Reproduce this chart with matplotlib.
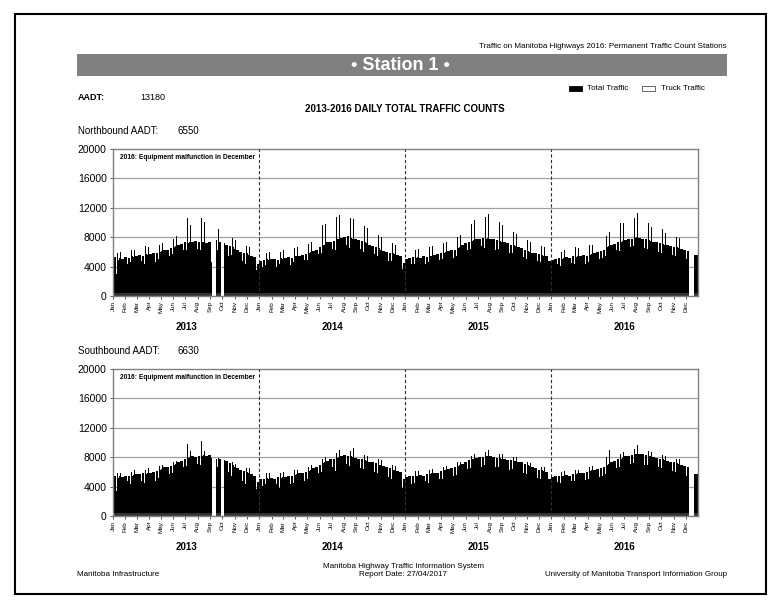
import numpy as np
import matplotlib
matplotlib.use("Agg")
import matplotlib.pyplot as plt
from matplotlib.patches import Rectangle

# ---------------------------------------------------------------------------
# weekly values: quiet day (low), usual level (base) and
# the busiest day of the week (peak)

years = [2013, 2014, 2015, 2016]
months = ["Jan", "Feb", "Mar", "Apr", "May", "Jun",
          "Jul", "Aug", "Sep", "Oct", "Nov", "Dec"]

nb_aadt = 6550
sb_aadt = 6630
total_aadt = 13180

nb_low_2013 = [2900, 3000, 4500, 4200, 4000, 4300, 4600, 4200, 4500, 4500, 4700, 4400, 4800,
               4900, 5000, 4600, 5000, 5200, 5300, 4800, 5500, 5700, 5800, 6000, 5600, 6200,
               6200, 5900, 6300, 6100, 6400, 6300, 6000, 6200, 6300, 4500, 6500, 6300, 6200,
               6000, 5800, 5500, 5600, 5200, 5000, 4600, 4800, 4300, 4500, 4200, 3500, 3500]
nb_base_2013 = [5300, 4900, 5200, 5100, 5300, 5200, 5400, 5300, 5500, 5600, 5500, 5700, 5600,
                5700, 5900, 5800, 6000, 6100, 6300, 6300, 6500, 6700, 6800, 7000, 7100, 7300,
                7200, 7400, 7300, 7500, 7400, 7400, 7300, 7200, 7400, 4600, 7600, 7400, 7300,
                7200, 7000, 6800, 6600, 6400, 6200, 6000, 5900, 5800, 5600, 5500, 5300, 4400]
nb_peak_2013 = [6100, 5900, 6000, 6200, 6100, 6400, 6300, 6200, 6600, 6700, 6500, 6800, 6600,
                6700, 6900, 6800, 7000, 7200, 7400, 7400, 8700, 7800, 8200, 9100, 9000, 9500,
                10600, 9600, 10200, 9800, 10300, 10600, 10100, 10400, 10500, 4700, 9400, 9100, 8500,
                8300, 8400, 8200, 7900, 7600, 7400, 7100, 6900, 6800, 6600, 6500, 6700, 6300]

nb_low_2014 = [3500, 4000, 4200, 3900, 4100, 4300, 3900, 4400, 4200, 4300, 4500, 4200, 4600,
               4700, 4500, 4800, 4900, 4900, 5200, 5000, 5400, 5700, 5900, 5600, 6200, 6300,
               6400, 6200, 6600, 6500, 6800, 6900, 6500, 6600, 6300, 6300, 6400, 6000, 6100,
               5900, 5600, 5700, 5400, 5200, 4900, 5100, 4800, 4800, 4700, 4400, 4300, 3700]
nb_base_2014 = [4800, 4900, 5000, 4900, 5000, 5100, 4900, 5200, 5100, 5200, 5300, 5200, 5400,
                5500, 5400, 5600, 5700, 5800, 6000, 6100, 6300, 6600, 6900, 7000, 7300, 7400,
                7500, 7700, 7800, 7900, 8000, 8100, 7900, 7800, 7700, 7600, 7500, 7300, 7200,
                7000, 6800, 6700, 6500, 6300, 6100, 6000, 5900, 5800, 5700, 5600, 5500, 4500]
nb_peak_2014 = [5800, 5500, 5900, 6000, 6100, 5900, 6200, 6000, 6300, 6200, 6400, 6300, 6500,
                6600, 6500, 6800, 7000, 7100, 7300, 8600, 8800, 9200, 9600, 9800, 9500, 10000,
                11000, 10800, 11000, 10600, 11900, 10800, 10600, 10500, 10200, 10000, 9800, 9500, 9300,
                9000, 8800, 8500, 8300, 8000, 7700, 7600, 7300, 7200, 7000, 6900, 6800, 6000]

nb_low_2015 = [3000, 4200, 4400, 4300, 4300, 4000, 4500, 4400, 4600, 4500, 4700, 4600, 4900,
               5000, 4900, 5100, 5300, 5200, 5500, 5600, 5800, 6100, 6200, 6400, 6100, 6600,
               6600, 6800, 6500, 6700, 6600, 6500, 6300, 6400, 6200, 6000, 6100, 5800, 5900,
               5700, 5500, 5500, 5300, 5100, 5000, 4800, 4900, 4700, 4600, 4500, 4200, 4000]
nb_base_2015 = [5000, 5200, 5300, 5200, 5300, 5200, 5400, 5300, 5500, 5500, 5600, 5700, 5800,
                5900, 6000, 6100, 6200, 6300, 6500, 6700, 6900, 7200, 7400, 7500, 7600, 7700,
                7800, 7900, 7800, 7900, 7800, 7700, 7600, 7500, 7400, 7300, 7200, 7000, 6900,
                6800, 6700, 6500, 6300, 6100, 6000, 5900, 5800, 5700, 5600, 5500, 5400, 4700]
nb_peak_2015 = [6000, 6200, 5900, 6300, 6400, 6200, 6500, 6400, 6700, 6800, 6700, 7000, 7100,
                7200, 7300, 7600, 7500, 7800, 8000, 8300, 8500, 9300, 10200, 9800, 10300, 9900,
                10600, 10200, 10800, 11200, 10500, 10300, 10000, 10100, 9600, 9400, 9200, 9000, 8700,
                8500, 8300, 8000, 7800, 7600, 7400, 7300, 7100, 6900, 6800, 6700, 6600, 6000]

nb_low_2016 = [3900, 4200, 4300, 4100, 4300, 4400, 4100, 4500, 4400, 4500, 4500, 4600, 4400,
               4600, 4700, 4800, 5000, 5100, 5200, 5500, 5700, 5800, 6000, 6200, 6100, 6400,
               6500, 6400, 6600, 6800, 6800, 6700, 6600, 6500, 6400, 6300, 6200, 6100, 6000,
               5900, 5800, 5700, 5700, 5600, 5400, 5400, 5300, 5200, 5000, 3600, 6000, 4800]
nb_base_2016 = [4900, 5100, 5200, 5100, 5200, 5300, 5200, 5400, 5300, 5400, 5500, 5600, 5500,
                5600, 5700, 5800, 6000, 6100, 6300, 6600, 6800, 7000, 7100, 7300, 7400, 7500,
                7600, 7700, 7800, 7900, 8000, 7900, 7800, 7700, 7600, 7500, 7400, 7300, 7200,
                7100, 7000, 6900, 6800, 6700, 6600, 6500, 6400, 6300, 6100, 3600, 5900, 5600]
nb_peak_2016 = [5900, 6100, 6200, 6000, 6300, 6400, 6200, 6500, 6600, 6500, 6800, 6700, 6900,
                7000, 6900, 7200, 7600, 7800, 8000, 8200, 8700, 9700, 9800, 9400, 10000, 9900,
                10500, 10200, 10800, 10600, 11300, 10700, 10500, 10600, 10000, 9400, 9700, 9000, 9200,
                9100, 8600, 8400, 8300, 8100, 8000, 7900, 7700, 7600, 7200, 3600, 6000, 7000]

sb_low_2013 = [3000, 3400, 4500, 4400, 4500, 4700, 4400, 4100, 4800, 4600, 4800, 4500, 4900,
               4800, 5000, 4800, 5200, 5400, 5500, 5200, 5700, 5900, 6100, 6200, 6400, 6600,
               6800, 6700, 7000, 6800, 7100, 7000, 7200, 7000, 7100, 7000, 6800, 6700, 6600,
               6500, 6400, 6000, 5500, 5400, 5200, 4900, 4800, 4400, 4500, 4200, 3800, 3700]
sb_base_2013 = [5500, 5200, 5400, 5300, 5400, 5500, 5400, 5600, 5700, 5700, 5800, 5700, 5900,
                5900, 6000, 6100, 6200, 6400, 6600, 6700, 6800, 6900, 7100, 7300, 7500, 7700,
                7900, 8000, 8100, 8000, 8200, 8200, 8300, 8200, 8300, 7900, 7800, 7700, 7700,
                7600, 7500, 7200, 6900, 6700, 6500, 6300, 6100, 6000, 5900, 5700, 5500, 4600]
sb_peak_2013 = [6000, 5800, 5900, 6000, 6000, 6100, 6000, 6200, 6300, 6300, 6400, 6300, 6500,
                6500, 6600, 6600, 6800, 6900, 7000, 7100, 7200, 7300, 7500, 7800, 8000, 8100,
                9800, 8800, 9500, 9000, 9300, 10200, 8800, 9200, 10100, 8000, 8000, 7900, 8100,
                8000, 7900, 7600, 7400, 7100, 7000, 6800, 6600, 6500, 6500, 6300, 6200, 5900]

sb_low_2014 = [3700, 4100, 4300, 3900, 4200, 4000, 4300, 3800, 4100, 3900, 4200, 4400, 4500,
               4500, 4800, 4700, 4800, 5100, 5200, 5400, 5600, 5800, 6000, 6200, 6300, 6500,
               6700, 6100, 6800, 7000, 7000, 7100, 6800, 6600, 6700, 6600, 6500, 6400, 6300,
               6200, 6100, 6000, 5800, 5700, 5600, 5400, 5300, 5100, 5000, 5000, 4800, 3800]
sb_base_2014 = [5000, 5100, 5200, 5100, 5200, 5100, 5300, 5200, 5300, 5300, 5400, 5400, 5600,
                5700, 5800, 5900, 6000, 6100, 6300, 6500, 6700, 6900, 7200, 7400, 7500, 7700,
                7800, 7900, 8000, 8200, 8300, 8200, 8100, 8000, 7900, 7800, 7700, 7600, 7500,
                7400, 7300, 7200, 7000, 6900, 6800, 6600, 6500, 6300, 6200, 6100, 6000, 5000]
sb_peak_2014 = [5800, 5700, 5800, 5900, 5900, 5800, 5900, 5800, 6000, 6000, 6100, 6200, 6300,
                6300, 6400, 6500, 6600, 6700, 6900, 7100, 7300, 7500, 7800, 8000, 8100, 8300,
                8400, 8600, 9000, 8500, 11300, 9100, 8800, 9200, 8500, 8600, 8400, 8300, 8100,
                8000, 7900, 8000, 7700, 7600, 7400, 7200, 7100, 6900, 6800, 6700, 6600, 6000]

sb_low_2015 = [3600, 4400, 4300, 4500, 4300, 4600, 4100, 4700, 4500, 4700, 4800, 4900, 5000,
               5000, 5200, 5300, 5300, 5500, 5600, 5800, 6000, 6200, 6400, 6500, 6600, 6700,
               6800, 6700, 6900, 7000, 6900, 6800, 6700, 6700, 6600, 6500, 6400, 6200, 6400,
               6300, 6200, 6100, 5900, 5700, 5600, 5600, 5400, 5200, 5100, 5000, 4800, 4400]
sb_base_2015 = [5300, 5400, 5400, 5500, 5500, 5600, 5500, 5700, 5700, 5800, 5900, 5900, 6100,
                6200, 6300, 6400, 6500, 6600, 6800, 6900, 7100, 7400, 7600, 7700, 7800, 7900,
                8000, 8000, 8100, 8200, 8100, 8000, 7900, 7900, 7800, 7700, 7600, 7600, 7500,
                7500, 7400, 7300, 7100, 6900, 6800, 6700, 6500, 6300, 6200, 6100, 6000, 5000]
sb_peak_2015 = [5900, 6000, 6000, 6100, 6100, 6200, 6100, 6300, 6300, 6400, 6500, 6500, 6700,
                6700, 6800, 6900, 7000, 7100, 7300, 7400, 7600, 7900, 8000, 8200, 8400, 8500,
                8600, 8500, 8700, 9000, 10500, 8800, 8700, 8500, 8400, 8400, 8300, 8200, 8000,
                8000, 7900, 7800, 7600, 7400, 7200, 7100, 6900, 6800, 6700, 6600, 6500, 6000]

sb_low_2016 = [4300, 4500, 4600, 4500, 4500, 4600, 4400, 4700, 4700, 4700, 4600, 4800, 4900,
               5000, 5000, 5100, 5200, 5300, 5500, 5700, 5900, 6100, 6300, 6500, 6600, 6700,
               6900, 7000, 7100, 7200, 7300, 7200, 7100, 7000, 6900, 6800, 6800, 6700, 6600,
               6500, 6400, 6300, 6200, 6100, 6000, 5900, 5800, 5700, 5500, 3600, 6000, 4800]
sb_base_2016 = [5300, 5400, 5500, 5400, 5500, 5600, 5500, 5700, 5700, 5800, 5800, 5900, 6000,
                6100, 6200, 6300, 6400, 6500, 6700, 6900, 7100, 7300, 7500, 7700, 7800, 7900,
                8100, 8200, 8300, 8400, 8500, 8500, 8400, 8300, 8200, 8100, 8000, 7900, 7800,
                7700, 7600, 7500, 7400, 7300, 7200, 7100, 6900, 6800, 6600, 3600, 6000, 5700]
sb_peak_2016 = [5800, 5900, 6000, 6000, 6100, 6100, 6200, 6200, 6300, 6300, 6400, 6500, 6600,
                6700, 6800, 6900, 7000, 7200, 7400, 8000, 9000, 7900, 8100, 8300, 8500, 8700,
                8800, 9000, 9200, 9100, 9700, 9300, 9100, 9000, 8800, 8700, 8600, 8500, 8400,
                8300, 8200, 8100, 8000, 7900, 7800, 7700, 7600, 7400, 7200, 3600, 6000, 7000]

# monthly truck traffic (small bars along the baseline)
nb_truck = [380, 390, 400, 410, 430, 440, 450, 450, 440, 430, 410, 380] \
         + [370, 380, 400, 420, 440, 460, 470, 460, 450, 430, 410, 380] \
         + [380, 390, 400, 420, 440, 450, 460, 460, 450, 430, 410, 380] \
         + [370, 390, 410, 420, 440, 460, 470, 470, 450, 440, 420, 390]
sb_truck = [370, 380, 390, 400, 420, 430, 440, 450, 430, 420, 400, 370] \
         + [360, 370, 390, 410, 430, 450, 460, 450, 440, 420, 400, 370] \
         + [370, 380, 400, 410, 430, 440, 450, 450, 440, 420, 400, 370] \
         + [360, 380, 400, 410, 430, 450, 460, 460, 440, 430, 410, 380]

# days with no data (first and last day, inclusive)
missing = [("2013-09-05", "2013-09-15"),
           ("2013-09-28", "2013-10-04"),
           ("2016-12-10", "2016-12-22")]

# ---------------------------------------------------------------------------

W, H = 780, 608
T0 = np.datetime64("2013-01-01")
plt.rcParams["font.family"] = ["Liberation Sans", "DejaVu Sans"]


def day(s):
    return int((np.datetime64(s) - T0) / np.timedelta64(1, "D"))


def fx(px):
    return px / W


def fy(py):
    return 1.0 - py / H


def cut(a, b, gaps):
    out = [(a, b)]
    for gs, ge in gaps:
        new = []
        for s, e in out:
            if ge <= s or gs >= e:
                new.append((s, e))
                continue
            if s < gs:
                new.append((s, gs))
            if ge < e:
                new.append((ge, e))
        out = new
    return out


def draw_panel(ax, low, base, peak, truck, gaps):
    lefts, widths, heights = [], [], []
    for yi, y in enumerate(years):
        y0 = day(f"{y}-01-01")
        y1 = day(f"{y + 1}-01-01")
        for k in range(52):
            s = y0 + 7 * k
            e = y1 if k == 51 else s + 7
            # quiet day at offset 1, busy day at offset 4, usual days around
            segs = [(s, s + 1, base[yi][k]), (s + 1, s + 2, low[yi][k]),
                    (s + 2, s + 4, base[yi][k]), (s + 4, s + 5, peak[yi][k]),
                    (s + 5, e, base[yi][k])]
            for a0, b0, v in segs:
                for a, b in cut(a0, b0, gaps):
                    lefts.append(a)
                    widths.append(b - a)
                    heights.append(v)

    ax.bar(lefts, heights, width=widths, align="edge", color="black",
           linewidth=0, zorder=2)

    # truck traffic, one bar per month
    mstarts = [day(f"{y}-{m:02d}-01") for y in years for m in range(1, 13)]
    mends = mstarts[1:] + [day("2017-01-01")]
    tl, tw, th = [], [], []
    for i, (s, e) in enumerate(zip(mstarts, mends)):
        for a, b in cut(s, e, gaps):
            tl.append(a)
            tw.append(b - a)
            th.append(truck[i])
    ax.bar(tl, th, width=tw, align="edge", color="white", alpha=0.2,
           linewidth=0, zorder=3)

    ax.set_xlim(0, day("2017-01-01"))
    ax.set_ylim(0, 20000)
    ax.set_yticks(np.arange(0, 20001, 4000))
    ax.set_yticklabels([str(v) for v in range(0, 20001, 4000)], fontsize=7.5)
    for v in range(4000, 20000, 4000):
        ax.axhline(v, color="#a0a0a0", linewidth=0.9, zorder=1)
    for y in years[1:]:
        ax.axvline(day(f"{y}-01-01"), color="#303030", linewidth=0.8,
                   linestyle=(0, (3, 2)), zorder=4)

    ax.set_xticks(mstarts)
    ax.set_xticklabels(months * 4, rotation=90, fontsize=4.5)
    ax.tick_params(axis="x", length=2, width=0.6, pad=1.5, color="#404040")
    ax.tick_params(axis="y", length=2.5, width=0.6, pad=2, color="#404040")
    for sp in ax.spines.values():
        sp.set_color("#808080")
        sp.set_linewidth(1.0)

    for y in years:
        mid = (day(f"{y}-01-01") + day(f"{y + 1}-01-01")) / 2
        ax.text(mid, -0.175, str(y), transform=ax.get_xaxis_transform(),
                ha="center", va="top", fontsize=7, fontweight="bold")

    ax.text(0.012, 0.965, "2016: Equipment malfunction in December",
            transform=ax.transAxes, ha="left", va="top", fontsize=4.8,
            fontweight="bold", zorder=5)


if __name__ == "__main__":
    fig = plt.figure(figsize=(W / 100, H / 100), dpi=100)

    # page frame and header
    fig.patches.append(Rectangle((fx(15), fy(594)), fx(751), 580 / H,
                                 transform=fig.transFigure, fill=False,
                                 edgecolor="black", linewidth=1.5))
    fig.patches.append(Rectangle((fx(77), fy(76)), fx(650), 22 / H,
                                 transform=fig.transFigure, facecolor="#808080",
                                 edgecolor="none"))
    fig.text(fx(727), fy(46), "Traffic on Manitoba Highways 2016: Permanent Traffic Count Stations",
             ha="right", va="center", fontsize=5.8)
    fig.text(fx(400), fy(65), "\u2022 Station 1 \u2022", ha="center", va="center",
             fontsize=13, fontweight="bold", color="white")

    fig.text(fx(78), fy(98), "AADT:", ha="left", va="center", fontsize=6.5,
             fontweight="bold")
    fig.text(fx(140), fy(98), str(total_aadt), ha="left", va="center",
             fontsize=6.5)
    fig.text(fx(405), fy(109), "2013-2016 DAILY TOTAL TRAFFIC COUNTS",
             ha="center", va="center", fontsize=7, fontweight="bold")

    # legend
    fig.patches.append(Rectangle((fx(569), fy(91)), fx(13), 5 / H,
                                 transform=fig.transFigure, facecolor="black",
                                 edgecolor="black", linewidth=0.6))
    fig.text(fx(587), fy(88.5), "Total Traffic", ha="left", va="center",
             fontsize=5.8)
    fig.patches.append(Rectangle((fx(642), fy(91)), fx(13), 5 / H,
                                 transform=fig.transFigure, facecolor="white",
                                 edgecolor="#505050", linewidth=0.6))
    fig.text(fx(661), fy(88.5), "Truck Traffic", ha="left", va="center",
             fontsize=5.8)

    gaps = [(day(a), day(b) + 1) for a, b in missing]

    fig.text(fx(78), fy(131), "Northbound AADT:", ha="left", va="center",
             fontsize=7)
    fig.text(fx(177), fy(131), str(nb_aadt), ha="left", va="center",
             fontsize=7)
    ax1 = fig.add_axes([fx(113), fy(296), fx(585), 147 / H])
    draw_panel(ax1,
               [nb_low_2013, nb_low_2014, nb_low_2015, nb_low_2016],
               [nb_base_2013, nb_base_2014, nb_base_2015, nb_base_2016],
               [nb_peak_2013, nb_peak_2014, nb_peak_2015, nb_peak_2016],
               nb_truck, gaps)

    fig.text(fx(78), fy(351), "Southbound AADT:", ha="left", va="center",
             fontsize=7)
    fig.text(fx(177), fy(351), str(sb_aadt), ha="left", va="center",
             fontsize=7)
    ax2 = fig.add_axes([fx(113), fy(516), fx(585), 147 / H])
    draw_panel(ax2,
               [sb_low_2013, sb_low_2014, sb_low_2015, sb_low_2016],
               [sb_base_2013, sb_base_2014, sb_base_2015, sb_base_2016],
               [sb_peak_2013, sb_peak_2014, sb_peak_2015, sb_peak_2016],
               sb_truck, gaps)

    # footer
    fig.text(fx(77), fy(574), "Manitoba Infrastructure", ha="left",
             va="center", fontsize=5.8)
    fig.text(fx(403), fy(566), "Manitoba Highway Traffic Information System",
             ha="center", va="center", fontsize=5.8)
    fig.text(fx(403), fy(574), "Report Date: 27/04/2017", ha="center",
             va="center", fontsize=5.8)
    fig.text(fx(727), fy(574), "University of Manitoba Transport Information Group",
             ha="right", va="center", fontsize=5.8)

    fig.savefig("out.png", dpi=100)
